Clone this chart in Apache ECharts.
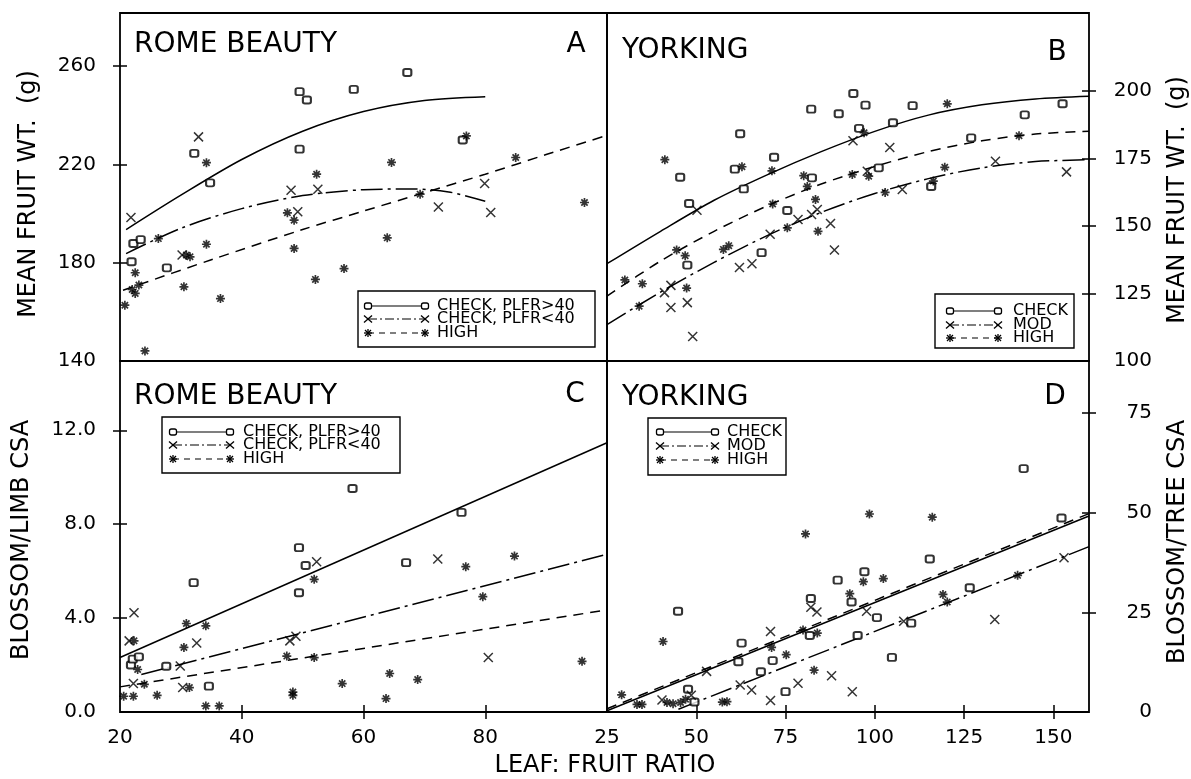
<!DOCTYPE html>
<html>
<head>
<meta charset="utf-8">
<script src="https://cdn.jsdelivr.net/npm/echarts@6/dist/echarts.min.js"></script>
<style>
html, body { margin: 0; background: #fff; }
#chart { width: 1191px; height: 779px; }
</style>
</head>
<body>
<div id="chart"></div>
<script>
// ---- panel A : Rome Beauty, mean fruit weight ----
var aCheckHi = [[21.9,180.4],[22.2,187.8],[23.4,189.4],[27.7,177.9],[32.2,224.5],[34.8,212.5],[49.5,249.6],[50.7,246.2],[49.5,226.2],[58.4,250.5],[67.2,257.4],[76.3,229.9]];
var aCheckLo = [[21.8,198.4],[30.2,183.1],[32.9,231.2],[48.1,209.5],[49.2,200.7],[52.5,209.9],[72.3,202.7],[79.9,212.2],[80.9,200.4]];
var aHigh = [[20.8,162.7],[22.0,169.1],[22.5,175.9],[22.5,167.5],[23.1,170.9],[24.1,144.1],[26.3,189.8],[30.5,170.2],[30.9,183.1],[31.5,182.4],[34.2,187.5],[34.2,220.7],[36.5,165.4],[47.5,200.3],[48.6,197.3],[48.6,185.8],[52.1,173.2],[52.3,216.0],[56.8,177.6],[63.9,190.1],[64.6,220.8],[69.3,207.9],[76.9,231.6],[85.0,222.8],[96.3,204.5]];
var aFitCheckHi = [[21,193.5],[30,207.5],[40,222],[50,233.5],[60,241.5],[70,246],[80,247.5]];
var aFitCheckLo = [[21,183.7],[30,194],[40,202],[50,207.3],[60,209.7],[68,210],[74,208.8],[80,205]];
var aFitHigh = [[20.5,168.8],[35,181.2],[50,193.5],[60,201],[70,208.5],[80,216],[90,224],[100,231.8]];

// ---- panel B : Yorking, mean fruit weight ----
var bCheck = [[45.5,168],[47.5,135.5],[48,158.3],[60.8,171],[62.3,184.1],[63.3,163.7],[68.3,140.1],[71.8,175.4],[75.5,155.7],[82.2,193.2],[82.4,167.8],[89.9,191.5],[94,199],[95.6,186.1],[97.4,194.7],[101.1,171.5],[105.1,188.2],[110.6,194.5],[115.8,164.6],[127,182.6],[142,191.1],[152.6,195.2]];
var bMod = [[41.1,125.3],[42.9,128],[42.9,119.8],[47.5,121.6],[49,109.1],[50.2,155.8],[62.1,134.6],[65.6,136],[70.7,146.9],[78.5,152.4],[82.3,154.2],[83.9,156.1],[87.6,150.9],[88.7,141.1],[93.9,181.5],[97.9,170.2],[104.2,179],[107.7,163.5],[133.8,173.9],[153.7,170]];
var bHigh = [[30,130],[34.9,128.6],[34,120.3],[41.2,174.5],[44.5,141.1],[46.9,139],[47.3,127],[57.6,141.3],[59.1,142.7],[62.8,171.9],[71.2,170.4],[71.4,158.1],[75.5,149.3],[80.1,168.6],[81.1,164.6],[83.4,159.8],[84.1,148],[93.7,169],[97,184.5],[98.3,168.4],[102.9,162.4],[116.4,166.6],[119.6,171.7],[120.3,195.2],[140.4,183.4]];
var bFitCheck = [[25,136],[40,148],[55,159.5],[70,169],[85,177.5],[100,185],[115,191],[130,194.8],[145,197],[160,198]];
var bFitMod = [[25,113.5],[40,125.5],[55,136.5],[70,146.5],[85,155],[100,162],[115,167.5],[130,171.5],[145,173.8],[160,174.5]];
var bFitHigh = [[25,124],[40,137],[55,148],[70,157.5],[85,165.5],[100,172],[115,177.5],[130,181.5],[145,184],[160,185]];

// ---- panel C : Rome Beauty, blossom / limb CSA ----
var cCheckHi = [[21.8,2.0],[22.1,2.25],[23.1,2.35],[27.6,1.95],[32.1,5.51],[34.6,1.1],[49.4,7.0],[49.4,5.08],[50.5,6.24],[58.2,9.52],[67,6.36],[76.1,8.5]];
var cCheckLo = [[21.5,3.03],[22.3,4.23],[22.2,1.21],[29.9,1.96],[30.3,1.04],[32.6,2.94],[47.9,3.03],[48.9,3.23],[52.3,6.4],[72.2,6.52],[80.5,2.32]];
var cHigh = [[20.6,0.67],[22.2,0.67],[22.3,3.03],[22.9,1.81],[24,1.18],[26.1,0.71],[30.5,2.75],[30.9,3.77],[31.4,1.04],[34.1,3.67],[34.1,0.26],[36.3,0.26],[47.4,2.38],[48.4,0.85],[48.4,0.71],[51.9,5.65],[51.9,2.32],[56.5,1.21],[63.7,0.57],[64.3,1.64],[68.9,1.38],[76.8,6.19],[79.6,4.91],[84.8,6.64],[95.9,2.16]];
var cFitCheckHi = [[20,2.32],[100,11.47]];
var cFitCheckLo = [[23.5,1.6],[100,6.72]];
var cFitHigh = [[20,1.07],[100,4.35]];

// ---- panel D : Yorking, blossom / tree CSA ----
var dCheck = [[44.9,25.3],[47.7,5.7],[49.5,2.5],[61.8,12.6],[62.7,17.3],[68.1,10.1],[71.4,12.9],[75,5.1],[81.8,19.2],[82.1,28.5],[89.6,33.1],[93.5,27.6],[95.2,19.2],[97.1,35.2],[100.6,23.7],[104.8,13.7],[110.2,22.3],[115.4,38.4],[126.6,31.2],[141.7,61.1],[152.3,48.7]];
var dMod = [[40.4,3.0],[48.6,4.2],[52.9,10.2],[62.3,6.8],[65.5,5.5],[70.8,20.2],[70.8,2.9],[78.5,7.2],[82.1,26.3],[83.8,25.1],[87.9,9.1],[93.7,5.1],[97.7,25.3],[108.1,22.8],[133.6,23.2],[153,38.7]];
var dHigh = [[29.1,4.3],[33.4,1.9],[34.8,1.9],[40.7,17.7],[41.8,2.4],[43.5,2.1],[45.6,2.4],[47,3.2],[57.3,2.5],[58.6,2.6],[71.1,16.2],[75.2,14.4],[79.9,20.6],[80.6,44.7],[83,10.5],[83.9,19.8],[93,29.7],[96.8,32.7],[98.5,49.7],[102.4,33.5],[116.1,48.9],[119.1,29.5],[120.3,27.6],[140,34.3]];
var dFitCheck = [[25,0.3],[160,49.2]];
var dFitMod = [[45,0.7],[160,41.5]];
var dFitHigh = [[25,0.8],[160,49.8]];

// ---- tick labels ----
var xLabelsC = [20, 40, 60, 80];
var xTicksC = [40, 60, 80];
var xLabelsD = [25, 50, 75, 100, 125, 150];
var xTicksD = [50, 75, 100, 125, 150];
var yLabelsA = [140, 180, 220, 260];
var yTicksA = [180, 220, 260];
var yLabelsB = [100, 125, 150, 175, 200];
var yTicksB = [125, 150, 175, 200];
var yLabelsC = [0, 4, 8, 12];
var yTicksC = [4, 8, 12];
var yLabelsD = [0, 25, 50, 75];
var yTicksD = [25, 50, 75];

var FONT = '"DejaVu Sans"';
var SYM_X = 'path://M0,0L10,10M10,0L0,10';
var SYM_STAR = 'path://M5,0L5,10M0,5L10,5M1.5,1.5L8.5,8.5M1.5,8.5L8.5,1.5';
var DASHDOT = [22, 5, 3, 5];
var DASHED = [10, 7];

var myChart = echarts.init(document.getElementById('chart'));

function axisBase(grid, min, max) {
    return {
        type: 'value', gridIndex: grid, min: min, max: max,
        axisLine: { show: false }, splitLine: { show: false },
        axisTick: { show: false }, axisLabel: { show: false }
    };
}

function tickAxis(grid, min, max, pos, ticks, inside, labels, labelOpt) {
    var ax = axisBase(grid, min, max);
    ax.position = pos;
    ax.axisTick = { show: true, inside: inside, length: 7, customValues: ticks,
        lineStyle: { color: '#000', width: 1.5 } };
    if (labels) {
        ax.axisLabel = Object.assign({ show: true, customValues: labels, color: '#000',
            fontFamily: FONT, fontSize: 20 }, labelOpt);
    }
    return ax;
}

var xAxes = [
    axisBase(0, 20, 100),
    axisBase(1, 25, 160),
    tickAxis(2, 20, 100, 'bottom', xTicksC, false, xLabelsC, { margin: 16 }),
    tickAxis(2, 20, 100, 'bottom', xTicksC, true),
    tickAxis(3, 25, 160, 'bottom', xTicksD, false, xLabelsD, { margin: 16 }),
    tickAxis(3, 25, 160, 'bottom', xTicksD, true)
];

var yAxes = [
    tickAxis(0, 140, 281.6, 'left', yTicksA, false, yLabelsA, { margin: 24 }),
    tickAxis(0, 140, 281.6, 'left', yTicksA, true),
    tickAxis(1, 100, 228.8, 'right', yTicksB, false, yLabelsB, { margin: 63, align: 'right' }),
    tickAxis(1, 100, 228.8, 'right', yTicksB, true),
    tickAxis(2, 0, 14.95, 'left', yTicksC, false, yLabelsC,
        { margin: 24, formatter: function (v) { return v.toFixed(1); } }),
    tickAxis(2, 0, 14.95, 'left', yTicksC, true),
    tickAxis(3, 0, 88.1, 'right', yTicksD, false, yLabelsD, { margin: 63, align: 'right' }),
    tickAxis(3, 0, 88.1, 'right', yTicksD, true)
];

function pts(data, xi, yi, kind) {
    var s = { type: 'scatter', xAxisIndex: xi, yAxisIndex: yi, data: data, silent: true, z: 3 };
    if (kind === 'o') {
        s.symbol = 'emptyRoundRect';
        s.symbolSize = [8, 7];
        s.itemStyle = { color: '#000', borderWidth: 1.4 };
    } else if (kind === 'x') {
        s.symbol = SYM_X;
        s.symbolSize = 9;
        s.itemStyle = { color: '#000', borderColor: '#000', borderWidth: 1.5 };
    } else {
        s.symbol = SYM_STAR;
        s.symbolSize = 9;
        s.itemStyle = { color: '#000', borderColor: '#000', borderWidth: 1.7 };
    }
    return s;
}

function fit(data, xi, yi, dash, smooth) {
    return {
        type: 'line', xAxisIndex: xi, yAxisIndex: yi, data: data, silent: true,
        symbol: 'none', smooth: smooth ? 0.3 : false, z: 2,
        lineStyle: { color: '#000', width: 1.5, type: dash }
    };
}

var series = [
    fit(aFitCheckHi, 0, 0, 'solid', true),
    fit(aFitCheckLo, 0, 0, DASHDOT, true),
    fit(aFitHigh, 0, 0, DASHED, true),
    pts(aCheckHi, 0, 0, 'o'), pts(aCheckLo, 0, 0, 'x'), pts(aHigh, 0, 0, '*'),

    fit(bFitCheck, 1, 2, 'solid', true),
    fit(bFitMod, 1, 2, DASHDOT, true),
    fit(bFitHigh, 1, 2, DASHED, true),
    pts(bCheck, 1, 2, 'o'), pts(bMod, 1, 2, 'x'), pts(bHigh, 1, 2, '*'),

    fit(cFitCheckHi, 2, 4, 'solid'),
    fit(cFitCheckLo, 2, 4, DASHDOT),
    fit(cFitHigh, 2, 4, DASHED),
    pts(cCheckHi, 2, 4, 'o'), pts(cCheckLo, 2, 4, 'x'), pts(cHigh, 2, 4, '*'),

    fit(dFitCheck, 4, 6, 'solid'),
    fit(dFitMod, 4, 6, DASHDOT),
    fit(dFitHigh, 4, 6, DASHED),
    pts(dCheck, 4, 6, 'o'), pts(dMod, 4, 6, 'x'), pts(dHigh, 4, 6, '*')
];

// ---- legends and texts ----
function legSym(kind, cx, cy) {
    var st = { stroke: '#000', lineWidth: 1.3 };
    if (kind === 'o') {
        return [{ type: 'rect', z: 101, shape: { x: cx - 3.5, y: cy - 3, width: 7, height: 6, r: 2 },
            style: { fill: '#fff', stroke: '#000', lineWidth: 1.3 } }];
    }
    if (kind === 'x') {
        return [
            { type: 'line', z: 101, shape: { x1: cx - 4, y1: cy - 3.5, x2: cx + 4, y2: cy + 3.5 }, style: st },
            { type: 'line', z: 101, shape: { x1: cx - 4, y1: cy + 3.5, x2: cx + 4, y2: cy - 3.5 }, style: st }
        ];
    }
    return [
        { type: 'line', z: 101, shape: { x1: cx, y1: cy - 4, x2: cx, y2: cy + 4 }, style: st },
        { type: 'line', z: 101, shape: { x1: cx - 4, y1: cy, x2: cx + 4, y2: cy }, style: st },
        { type: 'line', z: 101, shape: { x1: cx - 3, y1: cy - 3, x2: cx + 3, y2: cy + 3 }, style: st },
        { type: 'line', z: 101, shape: { x1: cx - 3, y1: cy + 3, x2: cx + 3, y2: cy - 3 }, style: st }
    ];
}

function legendBox(box, x1, x2, tx, rows, labels) {
    var els = [{ type: 'rect', z: 100, shape: { x: box[0], y: box[1], width: box[2], height: box[3] },
        style: { fill: '#fff', stroke: '#000', lineWidth: 1.4 } }];
    var kinds = ['o', 'x', '*'];
    var dashes = [null, [9, 3, 2, 3], [6, 5]];
    rows.forEach(function (ry, i) {
        els.push({ type: 'line', z: 100, shape: { x1: x1, y1: ry, x2: x2, y2: ry },
            style: { stroke: '#000', lineWidth: 1.2, lineDash: dashes[i] } });
        els = els.concat(legSym(kinds[i], x1, ry), legSym(kinds[i], x2, ry));
        els.push({ type: 'text', z: 101, x: tx, y: ry,
            style: { text: labels[i], font: '16px ' + FONT, fill: '#000', verticalAlign: 'middle' } });
    });
    return els;
}

function txt(s, x, y, size, rot, align) {
    return { type: 'text', z: 100, x: x, y: y, rotation: rot || 0,
        style: { text: s, font: size + 'px ' + FONT, fill: '#000',
            align: align || 'left', verticalAlign: 'middle' } };
}

var labelsRB = ['CHECK, PLFR>40', 'CHECK, PLFR<40', 'HIGH'];
var labelsYK = ['CHECK', 'MOD', 'HIGH'];

var graphics = []
    .concat(legendBox([358, 291, 237, 56], 368, 425, 437, [306, 319, 333], labelsRB))
    .concat(legendBox([935, 294, 139, 54], 950, 998, 1013, [311, 325, 338], labelsYK))
    .concat(legendBox([162, 417, 238, 56], 173, 230, 243, [432, 445, 459], labelsRB))
    .concat(legendBox([648, 418, 138, 57], 660, 715, 727, [432, 446, 460], labelsYK))
    .concat([
        txt('ROME BEAUTY', 134, 45, 28), txt('A', 576, 45, 28, 0, 'center'),
        txt('YORKING', 622, 51, 28), txt('B', 1057, 53, 28, 0, 'center'),
        txt('ROME BEAUTY', 134, 397, 28), txt('C', 575, 395, 28, 0, 'center'),
        txt('YORKING', 622, 398, 28), txt('D', 1055, 397, 28, 0, 'center'),
        txt('MEAN FRUIT WT.  (g)', 29, 194, 24, Math.PI / 2, 'center'),
        txt('BLOSSOM/LIMB CSA', 22, 540, 24, Math.PI / 2, 'center'),
        txt('MEAN FRUIT WT.  (g)', 1178, 200, 24, Math.PI / 2, 'center'),
        txt('BLOSSOM/TREE CSA', 1178, 542, 24, Math.PI / 2, 'center'),
        txt('LEAF: FRUIT RATIO', 605, 766, 24, 0, 'center')
    ]);

var gridStyle = { show: true, borderColor: '#000', borderWidth: 1.8, backgroundColor: 'transparent' };

var option = {
    backgroundColor: '#fff',
    animation: false,
    grid: [
        Object.assign({ left: 120, top: 13, width: 487, height: 348 }, gridStyle),
        Object.assign({ left: 607, top: 13, width: 482, height: 348 }, gridStyle),
        Object.assign({ left: 120, top: 361, width: 487, height: 351 }, gridStyle),
        Object.assign({ left: 607, top: 361, width: 482, height: 351 }, gridStyle)
    ],
    xAxis: xAxes,
    yAxis: yAxes,
    series: series,
    graphic: graphics
};

myChart.setOption(option, true);
</script>
</body>
</html>
